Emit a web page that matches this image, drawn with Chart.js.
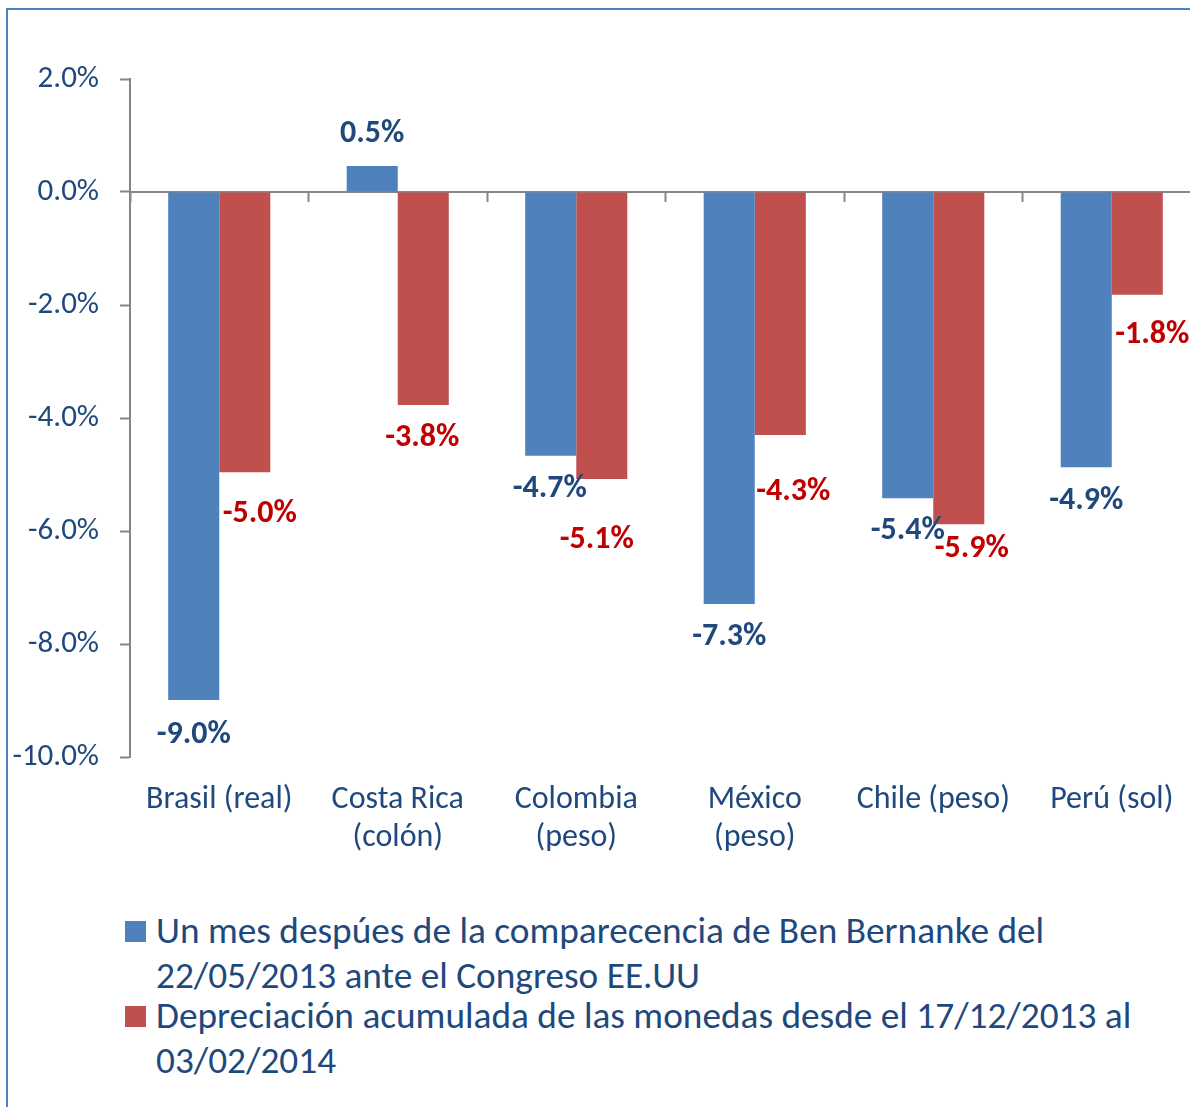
<!DOCTYPE html>
<html lang="es">
<head>
<meta charset="utf-8">
<title>Depreciación de monedas latinoamericanas</title>
<script src="https://cdn.jsdelivr.net/npm/chart.js@4.4.1/dist/chart.umd.min.js"></script>
<style>
    html, body {
        margin: 0;
        padding: 0;
        background: #fff;
        overflow: hidden;
        width: 1190px;
        height: 1107px;
    }
    #frame {
        position: absolute;
        left: 6px;
        top: 8px;
        width: 1300px;
        height: 1200px;
        border: 2px solid #4F81BD;
        box-sizing: border-box;
    }
    #chart {
        position: absolute;
        left: 0;
        top: 0;
    }
    #legend {
        position: absolute;
        left: 125px;
        top: 908px;
        width: 1040px;
        font-family: Carlito, 'Open Sans', sans-serif;
        font-size: 37.3px;
        line-height: 45px;
        color: #1F497D;
    }
    .item {
        position: relative;
        padding-left: 31px;
    }
    .item + .item {
        margin-top: -5px;
    }
    .swatch {
        position: absolute;
        left: 0;
        top: 13px;
        width: 21px;
        height: 21px;
    }
</style>
</head>
<body>
<div id="frame"></div>
<canvas id="chart" width="1215" height="900"></canvas>
<div id="legend"></div>
<script>
// ---- Data ----

const categories = [
    'Brasil (real)',
    ['Costa Rica', '(colón)'],
    ['Colombia', '(peso)'],
    ['México', '(peso)'],
    'Chile (peso)',
    'Perú (sol)',
];

const seriesNames = [
    'Un mes despúes de la comparecencia de Ben Bernanke del 22/05/2013 ante el Congreso EE.UU',
    'Depreciación acumulada de las monedas desde el 17/12/2013 al 03/02/2014',
];

// percent change, one value per category
const afterBernanke = [-8.99, 0.46, -4.67, -7.29, -5.42, -4.87];
const sinceDecember = [-4.96, -3.77, -5.08, -4.30, -5.88, -1.82];

const yTicks = [2, 0, -2, -4, -6, -8, -10];

// ---- Styles ----

const BLUE = '#4F81BD';
const RED = '#C0504D';
const TEXT_BLUE = '#1F497D';
const TEXT_RED = '#C00000';
const AXIS_GREY = '#868686';
const FONT = "Carlito, 'Open Sans', sans-serif";

// hand-placed label nudges (dx, dy) on top of the default outside-end spot
const labelNudge = [
    [[0, 2], [0, -2], [-1, 0], [0, 0], [0, 0], [0, 1]],
    [[15, 9], [-1, 0], [-5, 28], [13, 24], [13, -8], [15, 7]],
];
const labelColour = [TEXT_BLUE, TEXT_RED];

// ---- Plugins ----

const valueLabels = {
    id: 'valueLabels',
    afterDatasetsDraw(chart) {
        const ctx = chart.ctx;
        ctx.save();
        ctx.font = `bold 32px ${FONT}`;
        ctx.textAlign = 'center';
        ctx.textBaseline = 'middle';
        chart.data.datasets.forEach((ds, di) => {
            const meta = chart.getDatasetMeta(di);
            meta.data.forEach((bar, i) => {
                const v = ds.data[i];
                const [dx, dy] = labelNudge[di][i];
                const y = bar.y + (v < 0 ? 33 : -30) + dy;
                ctx.fillStyle = labelColour[di];
                ctx.fillText(`${v.toFixed(1)}%`, bar.x + dx, y);
            });
        });
        ctx.restore();
    },
};

// ---- Chart ----

new Chart(document.getElementById('chart').getContext('2d'), {
    type: 'bar',
    data: {
        labels: categories,
        datasets: [
            {
                label: seriesNames[0],
                data: afterBernanke,
                backgroundColor: BLUE,
            },
            {
                label: seriesNames[1],
                data: sinceDecember,
                backgroundColor: RED,
            },
        ],
    },
    options: {
        responsive: false,
        animation: false,
        events: [],
        barPercentage: 1,
        categoryPercentage: 0.572,
        layout: { padding: { left: 8, top: 79, right: 14, bottom: 0 } },
        plugins: {
            legend: { display: false },
            tooltip: { enabled: false },
        },
        scales: {
            y: {
                min: -10,
                max: 2,
                afterFit: (scale) => { scale.width = 122; },
                afterBuildTicks: (scale) => {
                    scale.ticks = yTicks.map((v) => ({ value: v }));
                },
                ticks: {
                    color: TEXT_BLUE,
                    font: { family: FONT, size: 31 },
                    padding: 21,
                    callback: (v) => `${Number(v).toFixed(1)}%`,
                },
                grid: {
                    drawOnChartArea: false,
                    tickLength: 10,
                    tickWidth: 2,
                    color: AXIS_GREY,
                },
                border: { color: AXIS_GREY, width: 2 },
            },
            // zero line with category separators
            x: {
                position: { y: 0 },
                z: 1,
                offset: true,
                ticks: { display: false },
                grid: {
                    offset: true,
                    drawOnChartArea: false,
                    tickLength: 9,
                    tickWidth: 2,
                    color: AXIS_GREY,
                },
                border: { color: AXIS_GREY, width: 2 },
            },
            // category names along the bottom
            x2: {
                type: 'category',
                position: 'bottom',
                labels: categories,
                offset: true,
                afterFit: (scale) => { scale.height = 143; },
                ticks: {
                    color: TEXT_BLUE,
                    font: { family: FONT, size: 32, lineHeight: 1.19 },
                    padding: 24,
                    maxRotation: 0,
                    autoSkip: false,
                },
                grid: { display: false, drawTicks: false },
                border: { display: false },
            },
        },
    },
    plugins: [valueLabels],
});

// ---- HTML legend ----

const legendEl = document.getElementById('legend');
[BLUE, RED].forEach((colour, i) => {
    const item = document.createElement('div');
    item.className = 'item';
    const sw = document.createElement('span');
    sw.className = 'swatch';
    sw.style.background = colour;
    item.appendChild(sw);
    item.appendChild(document.createTextNode(seriesNames[i]));
    legendEl.appendChild(item);
});
</script>
</body>
</html>
